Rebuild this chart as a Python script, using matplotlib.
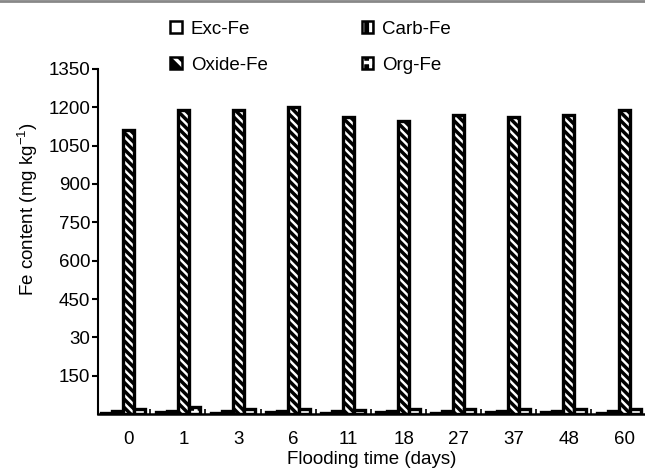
import matplotlib
matplotlib.use("Agg")
import matplotlib.pyplot as plt
import numpy as np
from matplotlib.patches import Patch
from matplotlib.lines import Line2D

plt.rcParams['font.family'] = ['Liberation Sans', 'DejaVu Sans']
plt.rcParams['mathtext.default'] = 'regular'
plt.rcParams['hatch.linewidth'] = 2.5

# data
days = ['0', '1', '3', '6', '11', '18', '27', '37', '48', '60']
exc_fe = [6, 7, 6, 7, 6, 7, 6, 7, 7, 6]
carb_fe = [12, 13, 14, 12, 13, 12, 13, 12, 12, 13]
oxide_fe = [1112, 1190, 1190, 1200, 1160, 1145, 1168, 1160, 1168, 1190]
org_fe = [20, 28, 22, 19, 18, 20, 21, 19, 20, 21]

yticks = [150, 300, 450, 600, 750, 900, 1050, 1200, 1350]
ytick_labels = ['150', '30', '450', '600', '750', '900', '1050', '1200', '1350']

FS = 13.5

fig = plt.figure(figsize=(6.45, 4.68), dpi=100)
ax = fig.add_axes([0.152, 0.115, 0.848, 0.738])

x = np.arange(len(days))
w = 0.2


def hatched_bar(pos, vals, hatch, fc='black', hc='white'):
    ax.bar(pos, vals, w, color=fc, edgecolor=hc, hatch=hatch, linewidth=0)
    ax.bar(pos, vals, w, fill=False, edgecolor='black', linewidth=2.4)


ax.bar(x - 2 * w, exc_fe, w, color='white', edgecolor='black', linewidth=2.4)
hatched_bar(x - w, carb_fe, '||')
hatched_bar(x, oxide_fe, '\\\\\\\\', fc='white', hc='black')
hatched_bar(x + w, org_fe, '++')

ax.set_xlim(-0.55, 9.38)
ax.set_ylim(0, 1350)
ax.set_yticks(yticks)
ax.set_yticklabels(ytick_labels)
ax.set_xticks(x)
ax.set_xticklabels(days)
ax.set_xticks(x[:-1] + 0.4, minor=True)
ax.tick_params(axis='x', which='major', length=0, pad=12, labelsize=FS)
ax.tick_params(axis='x', which='minor', direction='in', length=3.5, width=1.2)
ax.tick_params(axis='y', direction='out', length=4.5, width=1.5, pad=1, labelsize=FS)

for s in ['top', 'right']:
    ax.spines[s].set_visible(False)
ax.spines['left'].set_linewidth(1.5)
ax.spines['bottom'].set_linewidth(1.8)

ax.set_xlabel('Flooding time (days)', fontsize=FS, labelpad=2)
ax.set_ylabel('Fe content (mg kg$^{-1}$)', fontsize=FS)
ax.yaxis.set_label_coords(-0.106, 0.595)

handles = [
    Patch(facecolor='white', edgecolor='black', linewidth=1.8),
    (Patch(facecolor='black', edgecolor='white', hatch='\\\\', linewidth=0),
     Patch(fill=False, edgecolor='black', linewidth=1.8)),
    (Patch(facecolor='black', edgecolor='white', hatch='||', linewidth=0),
     Patch(fill=False, edgecolor='black', linewidth=1.8)),
    (Patch(facecolor='black', edgecolor='white', hatch='++', linewidth=0),
     Patch(fill=False, edgecolor='black', linewidth=1.8)),
]
labels = ['Exc-Fe', 'Oxide-Fe', 'Carb-Fe', 'Org-Fe']
fig.legend(handles, labels, ncol=2, loc='upper left', bbox_to_anchor=(0.264, 0.955),
           frameon=False, fontsize=FS, handlelength=0.6, handleheight=0.6,
           handletextpad=0.5, columnspacing=5.0, labelspacing=1.0,
           borderpad=0, borderaxespad=0)

fig.add_artist(Line2D([0, 1], [0.997, 0.997], color='#888888', lw=2))

fig.savefig('out.png', dpi=100)
